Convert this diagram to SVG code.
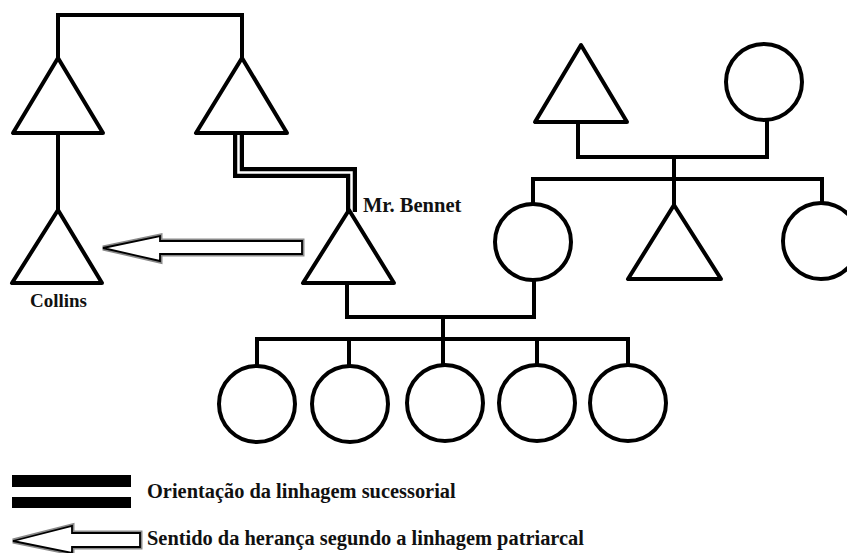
<svg xmlns="http://www.w3.org/2000/svg" width="847" height="553" viewBox="0 0 847 553">
<style>
.s{fill:#fff;stroke:#000;stroke-width:4;stroke-linejoin:round}
.l{fill:none;stroke:#000;stroke-width:4;stroke-linecap:square}
.t{font-family:"Liberation Serif","Times New Roman",serif;font-weight:bold;fill:#111}
.ao{fill:#fff;stroke:#8a8a8a;stroke-width:5;stroke-linejoin:miter}
.ai{fill:#fff;stroke:#000;stroke-width:1.8;stroke-linejoin:miter}
</style>
<rect width="847" height="553" fill="#fff"/>
<g id="connectors">
<polyline class="l" points="58,58 58,15 242,15 242,58"/>
<line class="l" x1="58" y1="133" x2="58" y2="210"/>
<polyline class="l" points="347,283 347,317 534,317 534,280"/>
<line class="l" x1="443" y1="317" x2="443" y2="339"/>
<line class="l" x1="257" y1="339" x2="628" y2="339"/>
<line class="l" x1="257" y1="339" x2="257" y2="366"/>
<line class="l" x1="349" y1="339" x2="349" y2="366"/>
<line class="l" x1="443" y1="339" x2="443" y2="366"/>
<line class="l" x1="537" y1="339" x2="537" y2="366"/>
<line class="l" x1="628" y1="339" x2="628" y2="366"/>
<polyline class="l" points="578,122 578,157 767,157 767,120"/>
<line class="l" x1="674" y1="157" x2="674" y2="205"/>
<polyline class="l" points="533,204 533,179 822,179 822,203"/>
<g id="succession">
<polyline fill="none" stroke="#000" stroke-width="11" stroke-linejoin="miter" points="238.5,133 238.5,172.5 351.5,172.5 351.5,212"/>
<polyline fill="none" stroke="#fff" stroke-width="2.5" stroke-linejoin="miter" points="238.5,133 238.5,172.5 351.5,172.5 351.5,212"/>
</g>
</g>
<g id="grandfather-left"><polygon class="s" points="58,58 13,133 103,133"/></g>
<g id="grandfather-right"><polygon class="s" points="242,58 196,133 287,133"/></g>
<g id="collins"><polygon class="s" points="58,210 12,283 102,283"/><text class="t" x="30" y="307" font-size="19">Collins</text></g>
<g id="bennet"><polygon class="s" points="349,210 303,283 394,283"/><text class="t" x="363" y="212" font-size="20.5">Mr. Bennet</text></g>
<g id="mrs-bennet"><circle class="s" cx="533" cy="242" r="38"/></g>
<g id="child-1"><circle class="s" cx="257" cy="404" r="38"/></g>
<g id="child-2"><circle class="s" cx="350" cy="404" r="38"/></g>
<g id="child-3"><circle class="s" cx="445" cy="403" r="38"/></g>
<g id="child-4"><circle class="s" cx="537" cy="403" r="38"/></g>
<g id="child-5"><circle class="s" cx="628" cy="403" r="38"/></g>
<g id="gf-right-family"><polygon class="s" points="581,45 535,122 627,122"/></g>
<g id="gm-right-family"><circle class="s" cx="764" cy="82" r="38"/></g>
<g id="uncle"><polygon class="s" points="674,205 628,279 721,279"/></g>
<g id="aunt"><circle class="s" cx="821" cy="241" r="38"/></g>
<g id="inheritance-arrow">
<polygon class="ao" points="103,248 160,236 160,241 302,241 302,254 160,254 160,261"/>
<polygon class="ai" points="103,248 160,236 160,241 302,241 302,254 160,254 160,261"/>
</g>
<g id="legend">
<rect x="12" y="475" width="119" height="12" fill="#000"/>
<rect x="12" y="497" width="119" height="11" fill="#000"/>
<text class="t" x="147" y="498" font-size="20.4">Orientação da linhagem sucessorial</text>
<polygon class="ao" points="13,541 72,526 72,533 140,533 140,547 72,547 72,553"/>
<polygon class="ai" points="13,541 72,526 72,533 140,533 140,547 72,547 72,553"/>
<text class="t" x="147" y="545" font-size="20.4">Sentido da herança segundo a linhagem patriarcal</text>
</g>
</svg>
